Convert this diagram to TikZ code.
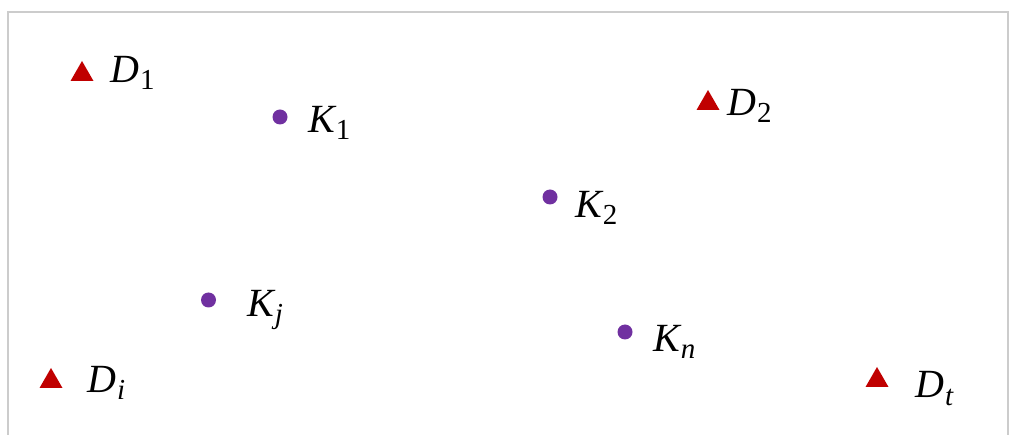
\documentclass[tikz,border=0pt]{standalone}
\usepackage{fontspec}
\setmainfont{Liberation Serif}
\definecolor{dred}{HTML}{C00000}
\definecolor{kpurple}{HTML}{7030A0}
\definecolor{framegray}{HTML}{CCCCCC}
\newcommand{\lab}[3]{{\itshape #1}\kern1bp\raisebox{-7bp}{\fontsize{29bp}{31bp}\selectfont #3#2}}
\begin{document}
\begin{tikzpicture}[x=1bp,y=-1bp,
  dot/.style={circle,fill=kpurple,draw=none,minimum size=15bp,inner sep=0pt},
  lbl/.style={anchor=base west,inner sep=0pt,font=\fontsize{40bp}{42bp}\selectfont}]
\useasboundingbox (0,0) rectangle (1010,435);
\draw[framegray,line width=2bp] (8,436) -- (8,12) -- (1008,12) -- (1008,436);
\newcommand{\trig}[2]{\fill[dred] (#1-11.5,#2) -- (#1+11.5,#2) -- (#1,#2-20) -- cycle;}
\trig{82}{81}
\trig{708}{110}
\trig{51}{388}
\trig{877}{387}
\node[lbl] (D1) at (110,83) {\lab{D}{1}{}};
\node[lbl] (D2) at (727,116) {\lab{D}{2}{}};
\node[lbl] (Di) at (87,393) {\lab{D}{i}{\itshape}};
\node[lbl] (Dt) at (915,398) {\lab{D}{t}{\itshape}};
\node[dot] (k1) at (280,117) {};
\node[dot] (k2) at (550,197) {};
\node[dot] (kj) at (208.5,300) {};
\node[dot] (kn) at (625,332) {};
\node[lbl] (K1) at (308,133) {\lab{K}{1}{}};
\node[lbl] (K2) at (575,218) {\lab{K}{2}{}};
\node[lbl] (Kj) at (247,317) {\lab{K}{j}{\itshape}};
\node[lbl] (Kn) at (653,352) {\lab{K}{n}{\itshape}};
\end{tikzpicture}
\end{document}
